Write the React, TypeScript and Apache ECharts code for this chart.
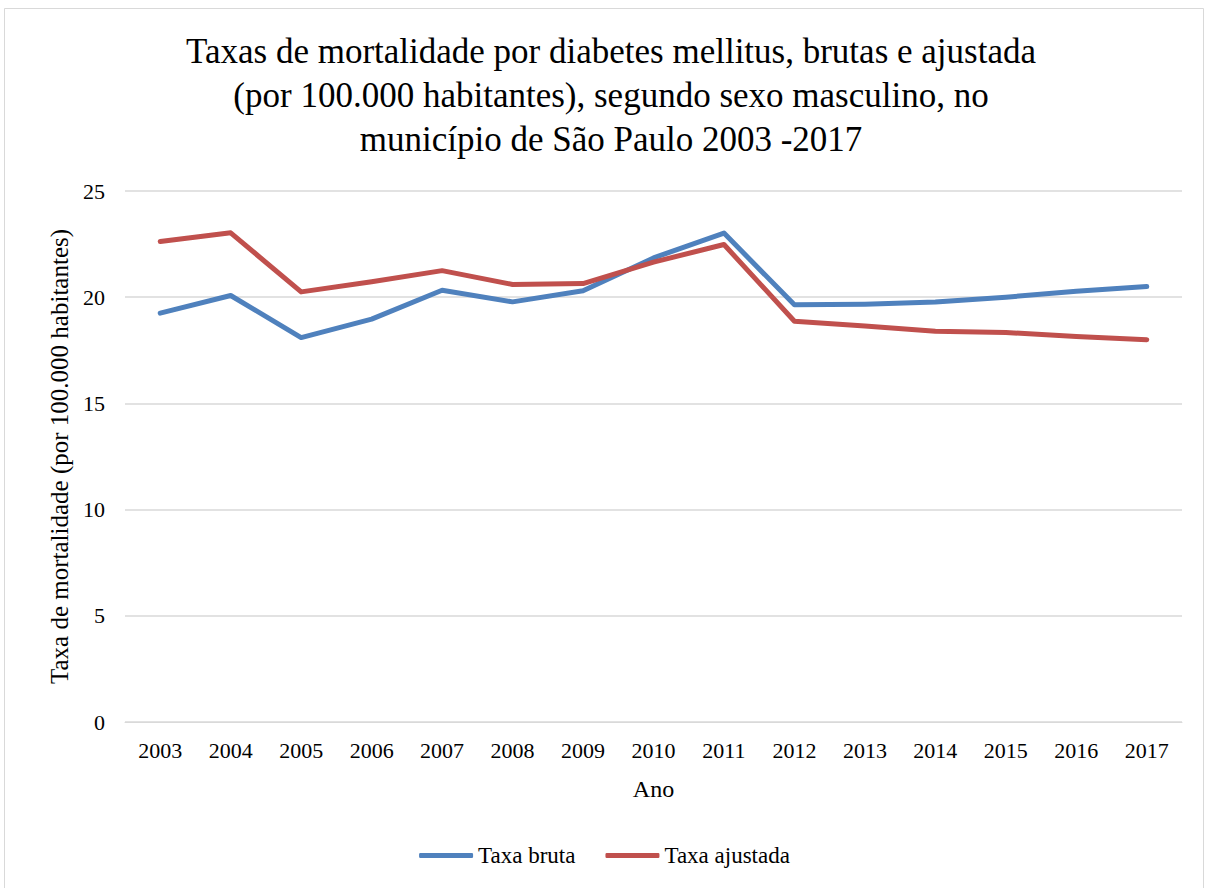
import React, { useEffect, useRef } from "react";
import * as echarts from "echarts";

const years = ["2003","2004","2005","2006","2007","2008","2009","2010","2011","2012","2013","2014","2015","2016","2017"];
const taxaBruta = [19.25, 20.08, 18.1, 18.97, 20.33, 19.78, 20.3, 21.85, 23.02, 19.64, 19.67, 19.77, 20.0, 20.28, 20.5];
const taxaAjustada = [22.62, 23.03, 20.25, 20.73, 21.25, 20.6, 20.64, 21.65, 22.48, 18.87, 18.64, 18.4, 18.34, 18.15, 18.0];
const seriesNames = ["Taxa bruta", "Taxa ajustada"];
const titleLines = [
  "Taxas de mortalidade por diabetes mellitus, brutas e ajustada",
  "(por 100.000 habitantes), segundo sexo masculino, no",
  "município de São Paulo 2003 -2017",
];

const FONT = "Times New Roman";

export default function App() {
  const ref = useRef<HTMLDivElement>(null);
  useEffect(() => {
    if (!ref.current) return;
    const chart = echarts.init(ref.current, undefined, { renderer: "svg" });
    chart.setOption({
      animation: false,
      backgroundColor: "#ffffff",
      graphic: [
        {
          type: "rect",
          shape: { x: 4.5, y: 8.5, width: 1199, height: 890 },
          style: { fill: "none", stroke: "#d9d9d9", lineWidth: 1 },
          silent: true,
        },
        ...titleLines.map((t, i) => ({
          type: "text",
          x: 611,
          y: 51 + i * 44,
          style: {
            text: t,
            font: "35px " + FONT,
            fill: "#000",
            align: "center",
            verticalAlign: "middle",
          },
        })),
      ],
      legend: {
        bottom: 16,
        left: "center",
        itemWidth: 54,
        itemHeight: 5,
        itemGap: 30,
        icon: "roundRect",
        textStyle: { fontFamily: FONT, fontSize: 23, color: "#000" },
        data: seriesNames,
      },
      grid: { left: 125, right: 27, top: 191, bottom: 166, containLabel: false },
      xAxis: {
        type: "category",
        data: years,
        boundaryGap: true,
        name: "Ano",
        nameLocation: "middle",
        nameGap: 55,
        nameTextStyle: { fontFamily: FONT, fontSize: 24, color: "#000" },
        axisLine: { lineStyle: { color: "#d9d9d9", width: 1 } },
        axisTick: { show: false },
        axisLabel: { fontFamily: FONT, fontSize: 22, color: "#000", margin: 17 },
      },
      yAxis: {
        type: "value",
        min: 0,
        max: 25,
        interval: 5,
        name: "Taxa de mortalidade (por 100.000 habitantes)",
        nameLocation: "middle",
        nameGap: 52,
        nameRotate: 90,
        nameTextStyle: { fontFamily: FONT, fontSize: 25, color: "#000" },
        axisLine: { show: false },
        axisTick: { show: false },
        axisLabel: { fontFamily: FONT, fontSize: 22, color: "#000", margin: 20 },
        splitLine: { lineStyle: { color: "#d9d9d9", width: 1.5 } },
      },
      series: [
        {
          name: seriesNames[0],
          type: "line",
          data: taxaBruta,
          symbol: "none",
          lineStyle: { color: "#4f81bd", width: 5, cap: "round", join: "round" },
          itemStyle: { color: "#4f81bd" },
        },
        {
          name: seriesNames[1],
          type: "line",
          data: taxaAjustada,
          symbol: "none",
          lineStyle: { color: "#c0504d", width: 5, cap: "round", join: "round" },
          itemStyle: { color: "#c0504d" },
        },
      ],
    });
    return () => chart.dispose();
  }, []);
  return (
    <div
      ref={ref}
      style={{ position: "absolute", left: 0, top: 0, width: 1209, height: 888 }}
    />
  );
}
